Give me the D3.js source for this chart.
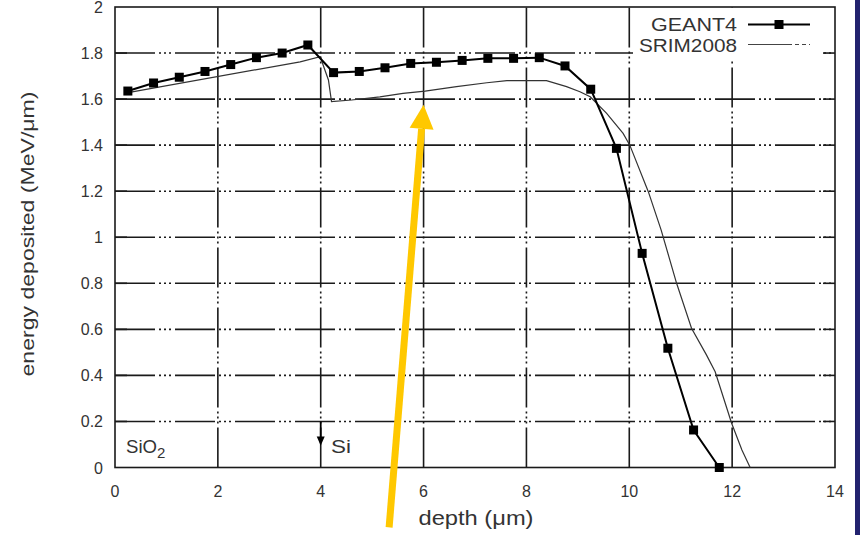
<!DOCTYPE html>
<html>
<head>
<meta charset="utf-8">
<script src="https://cdn.jsdelivr.net/npm/d3@7"></script>
<style>
body { margin: 0; background: #fff; }
text { font-family: "Liberation Sans", Arial, sans-serif; fill: #333; }
</style>
</head>
<body>
<div id="fig"></div>
<script>
const fig_width = 860
const fig_height = 535

// axis ticks
const xTicks = [0, 2, 4, 6, 8, 10, 12, 14]
const yTicks = [0, 0.2, 0.4, 0.6, 0.8, 1, 1.2, 1.4, 1.6, 1.8, 2]

// GEANT4 (squares)
const geantDepth = [0.25, 0.75, 1.25, 1.75, 2.25, 2.75, 3.25, 3.75, 4.25, 4.75, 5.25, 5.75,
    6.25, 6.75, 7.25, 7.75, 8.25, 8.75, 9.25, 9.75, 10.25, 10.75, 11.25, 11.75]
const geantEnergy = [1.635, 1.67, 1.695, 1.72, 1.75, 1.78, 1.80, 1.835, 1.715, 1.72, 1.736, 1.755,
    1.76, 1.768, 1.777, 1.777, 1.78, 1.744, 1.643, 1.386, 0.93, 0.518, 0.163, 0.0]

// SRIM2008 (thin line)
const srimDepth = [0.2, 3.6, 3.99, 4.15, 4.21, 4.6, 5.15, 5.6, 6.03, 6.64, 7.23, 7.62, 8.39, 8.78,
    9.04, 9.24, 9.56, 9.88, 10.01, 10.37, 10.62, 10.92, 11.21, 11.5, 11.67, 11.99, 12.19, 12.35]
const srimEnergy = [1.626, 1.762, 1.784, 1.683, 1.589, 1.596, 1.61, 1.625, 1.635, 1.654, 1.671, 1.68, 1.68, 1.654,
    1.632, 1.61, 1.538, 1.451, 1.40, 1.198, 1.031, 0.80, 0.605, 0.489, 0.416, 0.192, 0.076, 0.0]

// orange annotation arrow (tail -> tip, in data units)
const arrowFrom = [5.33, -0.26]
const arrowTo = [6.0, 1.575]

let x = d3.scaleLinear().domain([0, 14]).range([115, 835])
let y = d3.scaleLinear().domain([0, 2]).range([467.5, 7])

let fig = d3.select("#fig")
    .append('svg')
    .attr('width', fig_width)
    .attr('height', fig_height)

// right-hand slide strip
fig.append('rect')
    .attr('x', 855).attr('y', 0)
    .attr('width', 5).attr('height', fig_height)
    .attr('fill', '#22226f')

const gridDash = '40,4,2,3,2,3,2,4'

// grid
fig.selectAll('line.ygrid')
    .data(yTicks.slice(1, -1))
    .join('line')
    .attr('class', 'ygrid')
    .attr('x1', x(0)).attr('x2', x(14))
    .attr('y1', d => y(d)).attr('y2', d => y(d))
    .attr('stroke', '#1a1a1a')
    .attr('stroke-width', 1.6)
    .attr('stroke-dasharray', gridDash)

fig.selectAll('line.xgrid')
    .data(xTicks.slice(1, -1))
    .join('line')
    .attr('class', 'xgrid')
    .attr('x1', d => x(d)).attr('x2', d => x(d))
    .attr('y1', y(0)).attr('y2', y(2))
    .attr('stroke', '#1a1a1a')
    .attr('stroke-width', 1.6)
    .attr('stroke-dasharray', gridDash)

// inward ticks, mirrored on the right
fig.selectAll('line.ytickR')
    .data(yTicks.slice(1, -1))
    .join('line')
    .attr('x1', x(14) - 12).attr('x2', x(14))
    .attr('y1', d => y(d)).attr('y2', d => y(d))
    .attr('stroke', '#1a1a1a').attr('stroke-width', 1.6)
fig.selectAll('line.ytickL')
    .data(yTicks.slice(1, -1))
    .join('line')
    .attr('x1', x(0)).attr('x2', x(0) + 12)
    .attr('y1', d => y(d)).attr('y2', d => y(d))
    .attr('stroke', '#1a1a1a').attr('stroke-width', 1.6)

// legend area hides the grid
fig.append('rect')
    .attr('x', 633).attr('y', y(2) + 1)
    .attr('width', 189).attr('height', 51)
    .attr('fill', '#fff')

// border
fig.append('rect')
    .attr('x', x(0)).attr('y', y(2))
    .attr('width', x(14) - x(0)).attr('height', y(0) - y(2))
    .attr('fill', 'none')
    .attr('stroke', '#1a1a1a')
    .attr('stroke-width', 1.6)

// tick labels
fig.selectAll('text.ylab')
    .data(yTicks)
    .join('text')
    .attr('x', 103)
    .attr('y', d => y(d) + 6)
    .attr('text-anchor', 'end')
    .style('font-size', '16px')
    .text(d => d3.format('~g')(d))

fig.selectAll('text.xlab')
    .data(xTicks)
    .join('text')
    .attr('x', d => x(d))
    .attr('y', 497)
    .attr('text-anchor', 'middle')
    .style('font-size', '16px')
    .text(d => d)

// axis titles
fig.append('text')
    .attr('x', 476).attr('y', 525)
    .attr('text-anchor', 'middle')
    .attr('textLength', 115).attr('lengthAdjust', 'spacingAndGlyphs')
    .style('font-size', '20px')
    .text('depth (μm)')

fig.append('text')
    .attr('transform', 'translate(33.5,234) rotate(-90)')
    .attr('text-anchor', 'middle')
    .attr('textLength', 285).attr('lengthAdjust', 'spacingAndGlyphs')
    .style('font-size', '19px')
    .text('energy deposited (MeV/μm)')

// SRIM2008 curve
let curve = d3.line().x(d => x(d[0])).y(d => y(d[1]))
fig.append('path')
    .datum(srimDepth.map((d, i) => [d, srimEnergy[i]]))
    .attr('d', curve)
    .attr('fill', 'none')
    .attr('stroke', '#333')
    .attr('stroke-width', 1.2)

// GEANT4 curve + squares
let geantData = geantDepth.map((d, i) => [d, geantEnergy[i]])
fig.append('path')
    .datum(geantData)
    .attr('d', curve)
    .attr('fill', 'none')
    .attr('stroke', '#000')
    .attr('stroke-width', 2)

const sq = 9
fig.selectAll('rect.g4')
    .data(geantData)
    .join('rect')
    .attr('class', 'g4')
    .attr('x', d => x(d[0]) - sq / 2)
    .attr('y', d => y(d[1]) - sq / 2)
    .attr('width', sq).attr('height', sq)
    .attr('fill', '#000')

// legend
fig.append('text')
    .attr('x', 737).attr('y', 31)
    .attr('text-anchor', 'end')
    .attr('textLength', 86).attr('lengthAdjust', 'spacingAndGlyphs')
    .style('font-size', '19px')
    .text('GEANT4')
fig.append('text')
    .attr('x', 737).attr('y', 52)
    .attr('text-anchor', 'end')
    .attr('textLength', 98).attr('lengthAdjust', 'spacingAndGlyphs')
    .style('font-size', '19px')
    .text('SRIM2008')
fig.append('line')
    .attr('x1', 748).attr('x2', 810).attr('y1', 24.5).attr('y2', 24.5)
    .attr('stroke', '#000').attr('stroke-width', 2)
fig.append('rect')
    .attr('x', 779 - sq / 2).attr('y', 24.5 - sq / 2)
    .attr('width', sq).attr('height', sq).attr('fill', '#000')
fig.append('line')
    .attr('x1', 748).attr('x2', 810).attr('y1', 44.5).attr('y2', 44.5)
    .attr('stroke', '#444').attr('stroke-width', 1.2)
    .attr('stroke-dasharray', '44,3,4,3,4,3')

// material labels
let sio2 = fig.append('text')
    .attr('x', 126).attr('y', 452.5)
    .style('font-size', '19px')
sio2.append('tspan').attr('textLength', 31).attr('lengthAdjust', 'spacingAndGlyphs').text('SiO')
sio2.append('tspan').attr('dy', 5).style('font-size', '15px').text('2')

fig.append('text')
    .attr('x', 331).attr('y', 452.5)
    .attr('textLength', 20).attr('lengthAdjust', 'spacingAndGlyphs')
    .style('font-size', '19px')
    .text('Si')

// Si boundary arrow
fig.append('line')
    .attr('x1', x(4)).attr('x2', x(4))
    .attr('y1', y(0.2)).attr('y2', y(0.12))
    .attr('stroke', '#000').attr('stroke-width', 1.8)
fig.append('path')
    .attr('d', `M${x(4) - 4},${y(0.135)} L${x(4) + 4},${y(0.135)} L${x(4)},${y(0.095)} Z`)
    .attr('fill', '#000')

// orange annotation arrow
let ax0 = x(arrowFrom[0]), ay0 = y(arrowFrom[1])
let ax1 = x(arrowTo[0]), ay1 = y(arrowTo[1])
let ang = Math.atan2(ay1 - ay0, ax1 - ax0)
let headLen = 24, headHalf = 12
let bx = ax1 - headLen * Math.cos(ang), by = ay1 - headLen * Math.sin(ang)
let px = -Math.sin(ang), py = Math.cos(ang)
fig.append('line')
    .attr('x1', ax0).attr('y1', ay0)
    .attr('x2', bx).attr('y2', by)
    .attr('stroke', '#ffc800').attr('stroke-width', 7)
fig.append('path')
    .attr('d', `M${ax1},${ay1} L${bx + px * headHalf},${by + py * headHalf} L${bx - px * headHalf},${by - py * headHalf} Z`)
    .attr('fill', '#ffc800')
</script>
</body>
</html>
